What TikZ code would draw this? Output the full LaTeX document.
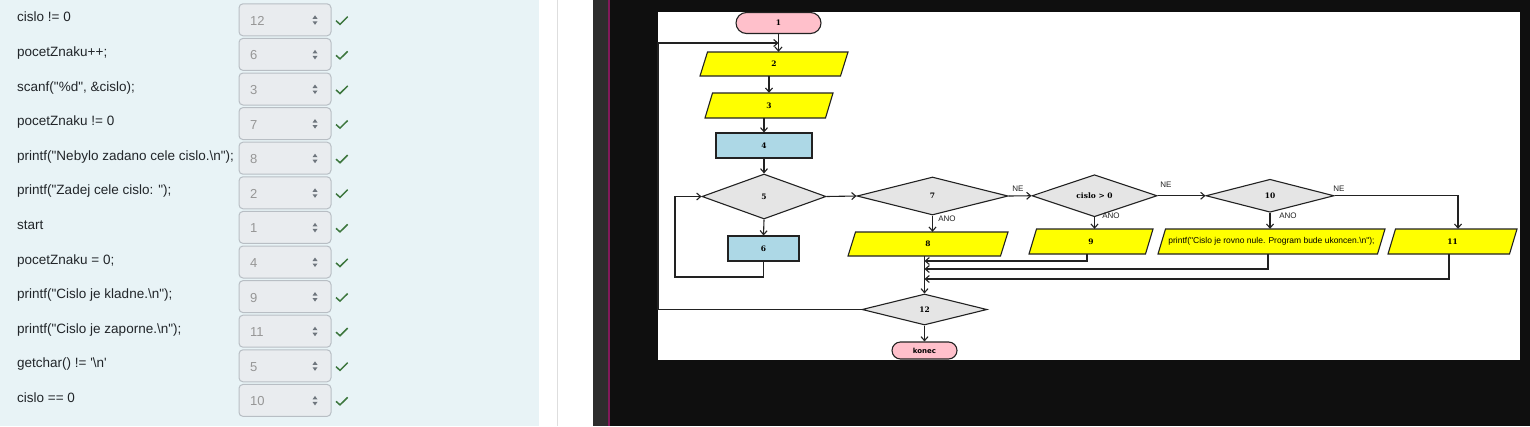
\documentclass[tikz,border=0pt]{standalone}
\usepackage{fontspec}
\setmainfont{Liberation Sans}[Ligatures=TeXOff]
\newfontfamily\uifont{Liberation Sans}[Ligatures=TeXOff]
\newfontfamily\fcserif{DejaVu Serif}[Ligatures=TeXOff]
\newfontfamily\fcsans{DejaVu Sans}[Ligatures=TeXOff]
\usetikzlibrary{shapes.geometric,shapes.misc,arrows.meta}
\definecolor{panelbg}{RGB}{232,243,246}
\definecolor{boxfill}{RGB}{233,236,239}
\definecolor{boxline}{RGB}{184,190,196}
\definecolor{numgray}{RGB}{150,150,150}
\definecolor{spin}{RGB}{110,117,125}
\definecolor{okgreen}{RGB}{60,118,61}
\definecolor{txt}{RGB}{33,37,41}
\definecolor{sepline}{RGB}{222,222,222}
\definecolor{darkband}{RGB}{45,45,45}
\definecolor{magline}{RGB}{130,25,90}
\definecolor{blackbg}{RGB}{15,15,15}
\definecolor{fcpink}{RGB}{255,192,203}
\definecolor{fcyellow}{RGB}{255,255,0}
\definecolor{fcblue}{RGB}{173,216,230}
\definecolor{fcgray}{RGB}{229,229,229}
\definecolor{fcline}{RGB}{34,34,34}
\tikzset{
  rowtext/.style={inner sep=0pt, text=txt, font=\uifont\fontsize{13.5}{15}\selectfont},
  spinbox/.style={rectangle, rounded corners=4pt, fill=boxfill, draw=boxline, line width=1pt, minimum width=92pt, minimum height=32pt, inner sep=0pt},
  numtext/.style={inner sep=0pt, text=numgray, font=\uifont\fontsize{13}{15}\selectfont},
  fcfont/.style={font=\fcserif\bfseries\fontsize{7.5}{9}\selectfont},
  fcnode/.style={draw=fcline, line width=1.1pt, inner sep=0pt, fcfont},
  term/.style={fcnode, rounded rectangle, fill=fcpink},
  fcshape/.style={draw=fcline, line width=1.1pt, fill=fcyellow, line join=miter},
  fctext/.style={rectangle, inner sep=0pt, fcfont},
  proc/.style={fcnode, rectangle, fill=fcblue},
  dec/.style={fcnode, diamond, fill=fcgray},
  fcarrow/.style={draw=fcline, line width=1.1pt, -{Straight Barb[length=4pt,width=7pt]}},
  lbl/.style={inner sep=0pt, text=fcline, font=\uifont\fontsize{8}{9}\selectfont}
}
\newcommand\qrow[3]{%
  \pgfmathsetmacro\rt{3.3+(#1-1)*34.6}%
  \node[rowtext, anchor=base west] (t#1) at (17,\rt+18.5) {#2};
  \node[spinbox, anchor=north west] (b#1) at (238.5,\rt) {};
  \node[numtext, anchor=base west] (v#1) at (250,\rt+22) {#3};
  \fill[spin] (312.5,\rt+15.5) -- (317.5,\rt+15.5) -- (315,\rt+12) -- cycle;
  \fill[spin] (312.5,\rt+18) -- (317.5,\rt+18) -- (315,\rt+21.5) -- cycle;
  \draw[okgreen, line width=1.5pt] (336,\rt+17.4) -- (340,\rt+21) -- (347.7,\rt+13.4);
}
% parallelogram: [font]{name}{cx}{cy}{w}{h}{text}
\newcommand\fcpara[7][]{%
  \pgfmathsetmacro\pxl{#3-#5/2}\pgfmathsetmacro\pxr{#3+#5/2}%
  \pgfmathsetmacro\pyt{#4-#6/2}\pgfmathsetmacro\pyb{#4+#6/2}%
  \filldraw[fcshape] (\pxl+7.5,\pyt) -- (\pxr,\pyt) -- (\pxr-7.5,\pyb) -- (\pxl,\pyb) -- cycle;
  \node[fctext,#1, minimum width=#5pt, minimum height=#6pt] (#2) at (#3,#4) {#7};
}
\begin{document}
\begin{tikzpicture}[x=1pt,y=-1pt]
\useasboundingbox (0,0) rectangle (1530,426);
% backgrounds
\fill[panelbg] (0,0) rectangle (539,426);
\fill[white] (539,0) rectangle (593,426);
\fill[sepline] (556.5,0) rectangle (558,426);
\fill[darkband] (593,0) rectangle (608,426);
\fill[magline] (608,0) rectangle (609.5,426);
\fill[blackbg] (609.5,0) rectangle (1530,426);
\fill[white] (658,12) rectangle (1520,360);
% left panel rows
\qrow{1}{cislo != 0}{12}
\qrow{2}{pocetZnaku++;}{6}
\qrow{3}{scanf("\%d", \&cislo);}{3}
\qrow{4}{pocetZnaku != 0}{7}
\qrow{5}{printf("Nebylo zadano cele cislo.\textbackslash n");}{8}
\qrow{6}{printf("Zadej cele cislo: ");}{2}
\qrow{7}{start}{1}
\qrow{8}{pocetZnaku = 0;}{4}
\qrow{9}{printf("Cislo je kladne.\textbackslash n");}{9}
\qrow{10}{printf("Cislo je zaporne.\textbackslash n");}{11}
\qrow{11}{getchar() != '\textbackslash n'}{5}
\qrow{12}{cislo == 0}{10}
% flowchart nodes
\node[term, minimum width=85pt, minimum height=21pt] (n1) at (778.5,23) {1};
\fcpara{n2}{774}{64}{148}{24}{2}
\fcpara{n3}{769}{105.5}{128}{25}{3}
\node[proc, minimum width=96pt, minimum height=25pt] (n4) at (764,145.5) {4};
\node[dec, minimum width=124pt, minimum height=45pt] (n5) at (764,196.5) {5};
\node[proc, minimum width=71pt, minimum height=25pt] (n6) at (763.5,248.5) {6};
\node[dec, minimum width=151pt, minimum height=38pt] (n7) at (932.5,196) {7};
\fcpara{n8}{928}{244}{160}{24}{8}
\node[dec, minimum width=125pt, minimum height=33pt] (n9) at (1094.5,195.75) {cislo > 0};
\fcpara{n10}{1091}{241.5}{124}{25}{9}
\node[dec, minimum width=128pt, minimum height=33pt] (n11) at (1270,195.75) {10};
\fcpara[font=\uifont\fontsize{8.5}{9}\selectfont]{n12}{1271.5}{241.5}{227}{25}{printf("Cislo je rovno nule. Program bude ukoncen.\textbackslash n");}
\fcpara{n13}{1452.5}{241.5}{129}{25}{11}
\node[dec, minimum width=125pt, minimum height=31pt] (n14) at (924.5,309.5) {12};
\node[term, minimum width=65pt, minimum height=17pt, font=\fcsans\bfseries\fontsize{7}{8}\selectfont] (n15) at (924.5,350.5) {konec};
% helper coordinates
\coordinate (j1) at (778.5,43);
\coordinate (lp1) at (658,309.5);
\coordinate (lp2) at (658,43);
\coordinate (l6) at (675,277);
\coordinate (m1) at (924.5,261);
\coordinate (m2) at (924.5,269);
\coordinate (m3) at (924.5,279);
% connectors
\draw[fcarrow] (n1.south) -- (n1.south |- n2.north);
\draw[fcarrow] (n14.west) -- (lp1) -- (lp2) -- (j1);
\draw[fcarrow] (n3.north |- n2.south) -- (n3.north);
\draw[fcarrow] (n4.north |- n3.south) -- (n4.north);
\draw[fcarrow] (n4.south) -- (n5.north);
\draw[fcarrow] (n5.south) -- (n6.north);
\draw[fcarrow] (n6.south) |- (l6) |- (n5.west);
\draw[fcarrow] (n5.east) -- (n7.west);
\draw[fcarrow] (n7.south) -- (n7.south |- n8.north);
\draw[fcarrow] (n7.east) -- (n9.west);
\draw[fcarrow] (n9.south) -- (n9.south |- n10.north);
\draw[fcarrow] (n9.east) -- (n11.west);
\draw[fcarrow] (n11.south) -- (n11.south |- n12.north);
\draw[fcarrow] (n11.east) -| ([xshift=5.5pt]n13.north);
\draw[fcarrow] (n14.north |- n8.south) -- (n14.north);
\draw[fcarrow] ([xshift=-4pt]n10.south) |- (m1);
\draw[fcarrow] ([xshift=-3.5pt]n12.south) |- (m2);
\draw[fcarrow] ([xshift=-3.5pt]n13.south) |- (m3);
\draw[fcarrow] (n14.south) -- (n15.north);
% labels
\node[lbl] (ne1) at (1018,189) {NE};
\node[lbl] (ne2) at (1166,185) {NE};
\node[lbl] (ne3) at (1339,189) {NE};
\node[lbl] (ano1) at (947,219) {ANO};
\node[lbl] (ano2) at (1111,216) {ANO};
\node[lbl] (ano3) at (1288,216) {ANO};
\end{tikzpicture}
\end{document}
